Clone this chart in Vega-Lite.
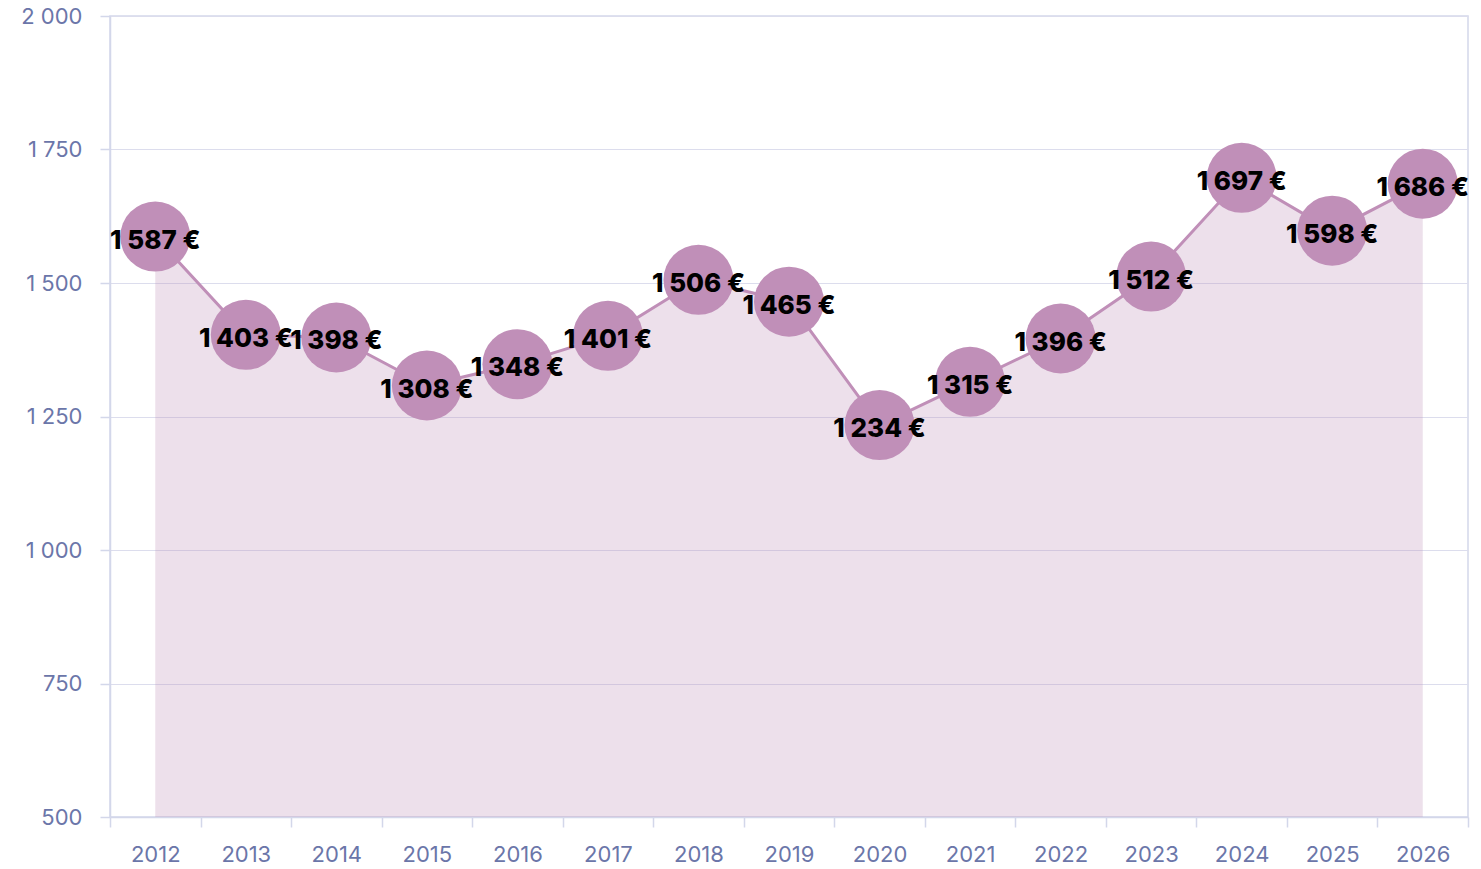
{
  "$schema": "https://vega.github.io/schema/vega-lite/v6.json",
  "width": 1358,
  "height": 801,
  "autosize": {"type": "none"},
  "padding": {"left": 110, "top": 16, "right": 13, "bottom": 52},
  "background": "white",
  "config": {
    "view": {"stroke": "#d3d7ea", "strokeWidth": 1.5},
    "font": "Inter"
  },
  "data": {
    "values": [
      {"year": "2012", "value": 1587},
      {"year": "2013", "value": 1403},
      {"year": "2014", "value": 1398},
      {"year": "2015", "value": 1308},
      {"year": "2016", "value": 1348},
      {"year": "2017", "value": 1401},
      {"year": "2018", "value": 1506},
      {"year": "2019", "value": 1465},
      {"year": "2020", "value": 1234},
      {"year": "2021", "value": 1315},
      {"year": "2022", "value": 1396},
      {"year": "2023", "value": 1512},
      {"year": "2024", "value": 1697},
      {"year": "2025", "value": 1598},
      {"year": "2026", "value": 1686}
    ]
  },
  "transform": [
    {"calculate": "replace(format(datum.value, ',d'), ',', ' ') + ' €'", "as": "label"}
  ],
  "encoding": {
    "x": {
      "field": "year",
      "type": "ordinal",
      "scale": {"type": "band", "paddingInner": 0, "paddingOuter": 0},
      "axis": {
        "title": null,
        "labelAngle": 0,
        "labelFontSize": 22,
        "labelColor": "#6b76a9",
        "labelPadding": 17,
        "tickBand": "extent",
        "tickColor": "#d3d7ea",
        "tickSize": 10,
        "tickWidth": 1.5,
        "domainColor": "#d3d7ea",
        "domainWidth": 1.5,
        "grid": false
      }
    },
    "y": {
      "field": "value",
      "type": "quantitative",
      "scale": {"domain": [500, 2000], "nice": false, "zero": false},
      "axis": {
        "title": null,
        "values": [500, 750, 1000, 1250, 1500, 1750, 2000],
        "labelExpr": "replace(format(datum.value, ',d'), ',', ' ')",
        "labelFontSize": 22,
        "labelColor": "#6b76a9",
        "labelPadding": 18,
        "tickColor": "#d3d7ea",
        "tickSize": 10,
        "tickWidth": 1.5,
        "domainColor": "#d3d7ea",
        "domainWidth": 1.5,
        "gridColor": "#dcdded",
        "gridWidth": 1.2
      }
    }
  },
  "layer": [
    {
      "mark": {"type": "area", "color": "#c08fb8", "opacity": 0.28},
      "encoding": {"y": {"field": "value", "type": "quantitative"}, "y2": {"datum": 500}}
    },
    {
      "mark": {"type": "line", "color": "#c08fb8", "strokeWidth": 3}
    },
    {
      "mark": {"type": "circle", "color": "#c08fb8", "opacity": 1, "size": 4900}
    },
    {
      "mark": {"type": "text", "fontSize": 26, "fontWeight": 800, "color": "#000000", "baseline": "middle", "align": "center", "dy": 4},
      "encoding": {"text": {"field": "label"}}
    }
  ]
}
